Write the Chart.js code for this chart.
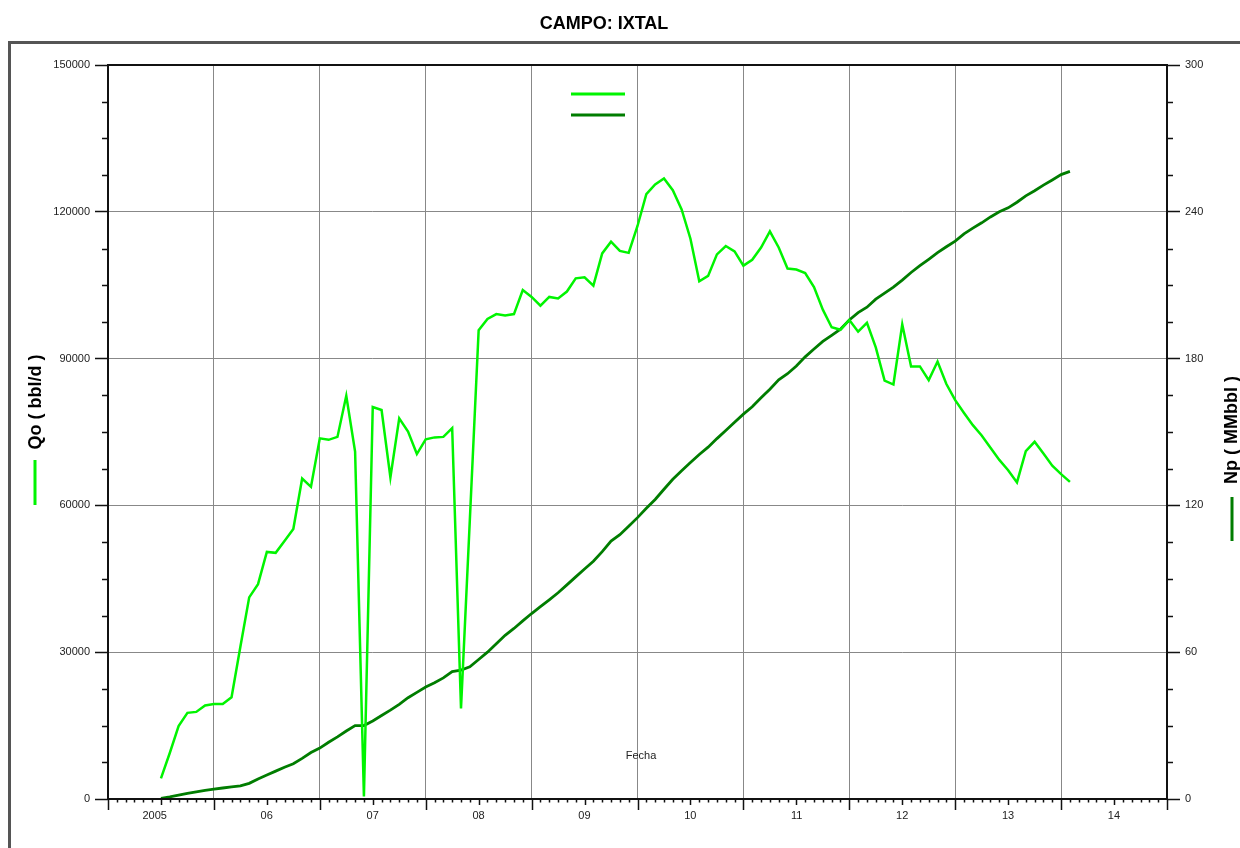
<!DOCTYPE html>
<html lang="es">
<head>
    <meta charset="UTF-8">
    <title>CAMPO: IXTAL</title>
    <script src="https://cdn.jsdelivr.net/npm/chart.js"></script>
    <style>
        body { margin: 0; background: #fff; }
        canvas { display: block; }
    </style>
</head>
<body>
    <canvas id="grafica" width="1240" height="848"></canvas>

    <script>
        // Produccion mensual del campo, a partir de jul-2005
        const titulo = 'CAMPO: IXTAL';
        const primerMes = { anio: 2005, mes: 7 };

        // Qo (bbl/d)
        const qo = [
            4200, 9400, 14900, 17600, 17800, 19100, 19400, 19400, 20800, 31100,
            41200, 43900, 50500, 50300, 52700, 55200, 65500, 63800, 73700, 73400,
            74000, 82400, 71000, 500, 80100, 79500, 65700, 77800, 75100, 70500,
            73500, 73900, 74000, 75800, 18500, 57000, 95800, 98100, 99100, 98800,
            99100, 104000, 102600, 100800, 102600, 102300, 103700, 106400, 106600, 104900,
            111500, 113900, 112000, 111600, 117100, 123600, 125600, 126800, 124400, 120500,
            114500, 105800, 106900, 111300, 113000, 111900, 109000, 110200, 112700, 116000,
            112700, 108400, 108200, 107500, 104600, 100000, 96400, 95900, 97900, 95500,
            97300, 92300, 85500, 84700, 97000, 88400, 88400, 85600, 89400, 84800,
            81500, 78900, 76400, 74300, 71800, 69300, 67200, 64700, 71100, 73000,
            70600, 68100, 66400, 64800
        ];

        // Np acumulada (MMbbl)
        const np = [
            0.3, 0.9, 1.6, 2.3, 2.9, 3.5, 4.0, 4.5, 5.0, 5.4,
            6.4, 8.2, 9.8, 11.4, 13.0, 14.4, 16.6, 19.0, 20.8, 23.2,
            25.4, 27.8, 30.0, 30.0, 31.9, 34.1, 36.3, 38.7, 41.4, 43.6,
            45.8, 47.5, 49.5, 52.1, 52.7, 54.0, 57.0, 60.0, 63.5, 66.9,
            69.7, 72.8, 75.8, 78.6, 81.4, 84.3, 87.5, 90.8, 94.0, 97.2,
            101.1, 105.4, 108.0, 111.5, 115.0, 118.8, 122.4, 126.6, 130.7, 134.2,
            137.5, 140.8, 143.8, 147.3, 150.6, 154.0, 157.3, 160.3, 164.0, 167.5,
            171.3, 173.8, 177.0, 180.7, 183.9, 187.0, 189.5, 192.0, 195.8, 198.8,
            201.0, 204.3, 206.8, 209.2, 212.1, 215.2, 218.0, 220.6, 223.3, 225.7,
            228.0, 231.0, 233.3, 235.5, 237.9, 240.0, 241.6, 243.9, 246.5, 248.6,
            250.9, 253.0, 255.2, 256.5
        ];

        const anios = [2005, 2006, 2007, 2008, 2009, 2010, 2011, 2012, 2013, 2014];
        const etiquetasAnio = ['2005', '06', '07', '08', '09', '10', '11', '12', '13', '14'];

        // fecha de cada mes como anio decimal (inicio de mes)
        const fechas = qo.map((_, i) => {
            const m = primerMes.mes - 1 + i;
            return primerMes.anio + Math.floor(m / 12) + (m % 12) / 12;
        });

        const verde = '#00f400';
        const verdeOscuro = '#007d00';
        const fuente = 'Arial, "Liberation Sans", sans-serif';

        const marco = {
            id: 'marco',
            afterDraw(chart) {
                const { ctx, chartArea: a, scales } = chart;
                const x = scales.x, yL = scales.y, yR = scales.y1;
                ctx.save();

                // recuadro exterior
                ctx.strokeStyle = '#555';
                ctx.lineWidth = 3;
                ctx.strokeRect(9.5, 42.5, 1300, 900);

                ctx.fillStyle = '#000';
                ctx.font = 'bold 18px ' + fuente;
                ctx.textAlign = 'center';
                ctx.textBaseline = 'middle';
                ctx.fillText(titulo, 604, 24);

                // borde del area de graficado
                ctx.strokeStyle = '#111';
                ctx.lineWidth = 2;
                ctx.strokeRect(a.left, a.top, a.right - a.left, a.bottom - a.top);

                // marcas del eje de fechas: mensual, medio anio y anio
                ctx.lineWidth = 1.5;
                ctx.beginPath();
                for (let m = 0; m <= 120; m++) {
                    const px = Math.round(x.getPixelForValue(2005 + m / 12)) + 0.5;
                    const largo = m % 12 === 0 ? 11 : (m % 12 === 6 ? 6 : 3.5);
                    ctx.moveTo(px, a.bottom);
                    ctx.lineTo(px, a.bottom + largo);
                }
                // marcas menores de los ejes verticales
                for (let v = 7500; v < 150000; v += 7500) {
                    if (v % 30000 === 0) continue;
                    const py = Math.round(yL.getPixelForValue(v)) + 0.5;
                    ctx.moveTo(a.left - 6, py);
                    ctx.lineTo(a.left, py);
                }
                for (let v = 15; v < 300; v += 15) {
                    if (v % 60 === 0) continue;
                    const py = Math.round(yR.getPixelForValue(v)) + 0.5;
                    ctx.moveTo(a.right, py);
                    ctx.lineTo(a.right + 6, py);
                }
                ctx.stroke();

                ctx.fillStyle = '#222';
                ctx.font = '11px ' + fuente;
                ctx.textAlign = 'right';
                anios.forEach((an, i) => {
                    ctx.fillText(etiquetasAnio[i], x.getPixelForValue(an + 0.5) + 6, 816);
                });
                ctx.textAlign = 'center';
                ctx.fillText('Fecha', 641, 756);

                // titulos de ejes con su muestra de linea
                ctx.fillStyle = '#000';
                ctx.font = 'bold 18px ' + fuente;
                ctx.save();
                ctx.translate(36, 402);
                ctx.rotate(-Math.PI / 2);
                ctx.fillText('Qo ( bbl/d )', 0, 0);
                ctx.restore();
                ctx.save();
                ctx.translate(1232, 430);
                ctx.rotate(-Math.PI / 2);
                ctx.fillText('Np ( MMbbl )', 0, 0);
                ctx.restore();

                ctx.lineWidth = 3;
                ctx.strokeStyle = verde;
                ctx.beginPath();
                ctx.moveTo(35, 460); ctx.lineTo(35, 505);
                ctx.moveTo(571, 94); ctx.lineTo(625, 94);
                ctx.stroke();
                ctx.strokeStyle = verdeOscuro;
                ctx.beginPath();
                ctx.moveTo(1232, 497); ctx.lineTo(1232, 541);
                ctx.moveTo(571, 115); ctx.lineTo(625, 115);
                ctx.stroke();

                ctx.restore();
            }
        };

        const marcasEje = { color: '#222', font: { family: fuente, size: 11 }, padding: 5 };

        new Chart(document.getElementById('grafica'), {
            type: 'line',
            data: {
                datasets: [{
                    label: 'Qo',
                    data: fechas.map((f, i) => ({ x: f, y: qo[i] })),
                    borderColor: verde,
                    borderWidth: 2.5,
                    pointRadius: 0,
                    tension: 0,
                    yAxisID: 'y'
                }, {
                    label: 'Np',
                    data: fechas.map((f, i) => ({ x: f, y: np[i] })),
                    borderColor: verdeOscuro,
                    borderWidth: 2.8,
                    pointRadius: 0,
                    tension: 0,
                    yAxisID: 'y1'
                }]
            },
            options: {
                responsive: false,
                animation: false,
                devicePixelRatio: 1,
                layout: { padding: { top: 65, left: 0, right: 0, bottom: 0 } },
                plugins: { legend: { display: false }, tooltip: { enabled: false } },
                scales: {
                    x: {
                        type: 'linear', min: 2005, max: 2015,
                        ticks: { display: false, stepSize: 1 },
                        grid: { color: '#888', lineWidth: 1, drawTicks: false },
                        border: { display: false },
                        afterFit(s) { s.height = 49; }
                    },
                    y: {
                        position: 'left', min: 0, max: 150000,
                        ticks: { ...marcasEje, stepSize: 30000, callback: v => String(v) },
                        grid: {
                            color: c => (c.tick.value === 0 || c.tick.value === 150000) ? 'rgba(0,0,0,0)' : '#888',
                            tickColor: '#111', tickLength: 13, tickWidth: 1.5
                        },
                        border: { display: false },
                        afterFit(s) { s.width = 108; }
                    },
                    y1: {
                        position: 'right', min: 0, max: 300,
                        ticks: { ...marcasEje, stepSize: 60, callback: v => String(v) },
                        grid: { drawOnChartArea: false, tickColor: '#111', tickLength: 13, tickWidth: 1.5 },
                        border: { display: false },
                        afterFit(s) { s.width = 73; }
                    }
                }
            },
            plugins: [marco]
        });
    </script>
</body>
</html>
